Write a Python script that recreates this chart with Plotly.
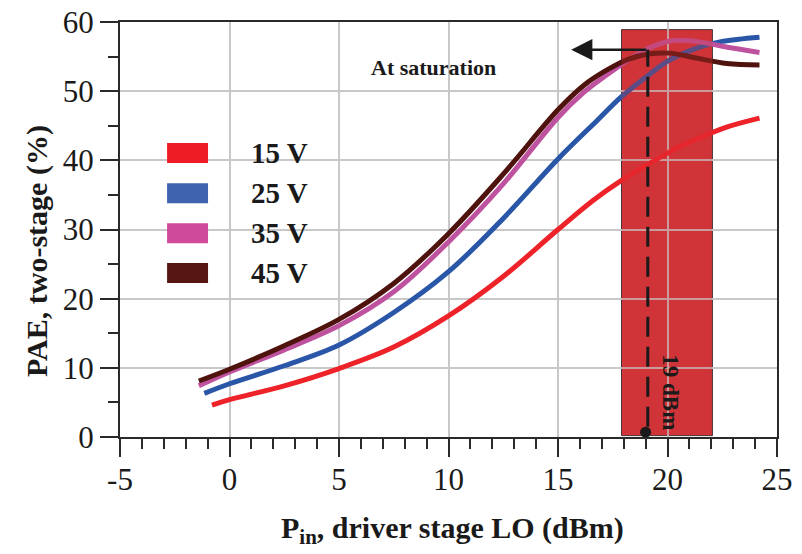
import plotly.graph_objects as go

# ---- data ----
x_15 = [-0.8, 0, 2.5, 5, 7.5, 10, 12.5, 15, 16.6, 17.9, 19.2, 20.5, 21.5, 22.7, 24.2]
y_15 = [4.6, 5.4, 7.4, 9.9, 13.0, 17.5, 23.2, 30.0, 34.2, 37.1, 39.6, 41.9, 43.3, 44.8, 46.1]

x_25 = [-1.15, 0, 2.5, 5, 7.5, 10, 12.5, 15, 16.8, 17.9, 19.2, 20.1, 21.5, 22.5, 24.2]
y_25 = [6.3, 7.7, 10.3, 13.3, 18.0, 23.9, 31.6, 40.2, 45.8, 49.2, 52.5, 54.5, 56.4, 57.2, 57.8]

x_35 = [-1.4, 0, 2.5, 5, 7.5, 10, 12.5, 15, 16.2, 17.2, 18.2, 19.2, 20.2, 21.3, 22.5, 24.2]
y_35 = [7.4, 9.4, 12.6, 16.1, 21.0, 28.2, 36.6, 46.2, 49.9, 52.3, 54.5, 56.3, 57.3, 57.2, 56.5, 55.6]

x_45 = [-1.4, 0, 2.5, 5, 7.5, 10, 12.5, 15, 16.2, 17.2, 18.2, 19.2, 20.1, 21.3, 22.7, 24.2]
y_45 = [8.1, 9.8, 13.2, 17.0, 22.2, 29.4, 38.0, 47.3, 50.9, 53.0, 54.6, 55.4, 55.5, 54.8, 54.0, 53.8]

series_names = ["15 V", "25 V", "35 V", "45 V"]
x_tick_vals = [-5, 0, 5, 10, 15, 20, 25]
x_tick_text = ["-5", "0", "5", "10", "15", "20", "25"]
y_tick_vals = [0, 10, 20, 30, 40, 50, 60]

sat_region = [17.9, 22.05]   # saturation band (dBm)
sat_point = 19               # 19 dBm marker
sat_level = 56               # arrow level (%)

# ---- styles ----
line_colors = ["#EE2229", "#2A56A8", "#BE529E", "#4F130E"]
legend_colors = ["#EE1C25", "#3F63AE", "#CF4A98", "#551510"]
BAND = "rgb(209,52,56)"
FONT = "Liberation Serif"
AX = "#2a2a2a"
TXT = "#1a1a1a"

# page has an 8px body margin; plot-area target in page pixels
OFF = 8
L, R, T, B = 120, 777, 22, 437
W, H = 802 - OFF, 554 - OFF
def px(xp, yp):
    return (xp - L) / (R - L), (B - yp) / (B - T)

fig = go.Figure()
for xs, ys, c, n in zip([x_15, x_25, x_35, x_45], [y_15, y_25, y_35, y_45], line_colors, series_names):
    fig.add_trace(go.Scatter(x=xs, y=ys, mode="lines", name=n,
                             line=dict(color=c, width=5, shape="spline", smoothing=1.0),
                             showlegend=False))

shapes = []
# saturation band: opaque fill below the grid, plus a translucent tint over the curves
shapes.append(dict(type="rect", xref="x", yref="y", x0=sat_region[0], x1=sat_region[1],
                   y0=0.2, y1=58.9, fillcolor=BAND,
                   line=dict(color="#333333", width=1), layer="below"))
shapes.append(dict(type="rect", xref="x", yref="y", x0=sat_region[0], x1=sat_region[1],
                   y0=0.2, y1=58.9, fillcolor=BAND, opacity=0.3,
                   line=dict(width=0), layer="above"))
shapes.append(dict(type="line", xref="x", yref="y", x0=sat_point + 0.1, x1=sat_point + 0.1,
                   y0=1.5, y1=sat_level, line=dict(color=TXT, width=3, dash="20px,10px"),
                   layer="above"))
# 19 dBm dot
shapes.append(dict(type="circle", xref="x", yref="y", xsizemode="pixel", ysizemode="pixel",
                   xanchor=sat_point, yanchor=0.7, x0=-5.5, x1=5.5, y0=-5.5, y1=5.5,
                   fillcolor=TXT, line=dict(width=0), layer="above"))

legend_rows_y = [41.05, 35.25, 29.45, 23.7]
for yc, c in zip(legend_rows_y, legend_colors):
    shapes.append(dict(type="rect", xref="x", yref="y", x0=-2.85, x1=-0.98,
                       y0=yc - 1.45, y1=yc + 1.45, fillcolor=c, line=dict(width=0),
                       layer="above"))

annotations = []
for yc, n in zip(legend_rows_y, series_names):
    annotations.append(dict(x=0.9, y=yc, xref="x", yref="y", text="<b>%s</b>" % n,
                            showarrow=False, xanchor="left", yanchor="middle",
                            font=dict(family=FONT, size=29, color=TXT)))

annotations.append(dict(x=15.6, y=sat_level, ax=sat_point + 0.1, ay=sat_level, xref="x", yref="y",
                        axref="x", ayref="y", text="", showarrow=True, arrowhead=2,
                        arrowsize=1.7, arrowwidth=2.5, arrowcolor=TXT, standoff=0,
                        startstandoff=0))
annotations.append(dict(x=9.3, y=53.4, xref="x", yref="y", text="<b>At saturation</b>",
                        showarrow=False, font=dict(family=FONT, size=22, color=TXT)))
annotations.append(dict(x=20.15, y=6.5, xref="x", yref="y", text="<b>19 dBm</b>",
                        showarrow=False, textangle=90,
                        font=dict(family=FONT, size=23, color=TXT)))
yx, yy = px(37, 251)
annotations.append(dict(x=yx, y=yy, xref="paper", yref="paper", text="<b>PAE, two-stage (%)</b>",
                        showarrow=False, textangle=-90, xanchor="center", yanchor="middle",
                        font=dict(family=FONT, size=30, color=TXT)))
tx, ty = px(452, 530)
annotations.append(dict(x=tx, y=ty, xref="paper", yref="paper",
                        text="<b>P<sub>in</sub>, driver stage LO (dBm)</b>",
                        showarrow=False, xanchor="center", yanchor="middle",
                        font=dict(family=FONT, size=30, color=TXT)))

fig.update_layout(
    width=W, height=H,
    margin=dict(l=L - OFF, r=802 - R, t=T - OFF, b=554 - B),
    paper_bgcolor="white", plot_bgcolor="white",
    shapes=shapes, annotations=annotations,
    font=dict(family=FONT, color=TXT),
    xaxis=dict(range=[-5, 25], tickvals=x_tick_vals, ticktext=x_tick_text, automargin=False,
               ticks="outside", ticklen=18, tickwidth=2, tickcolor=AX,
               showline=True, linewidth=2, linecolor=AX, mirror=True,
               showgrid=True, gridcolor="#c8c8c8", gridwidth=1.5, zeroline=False,
               tickfont=dict(family=FONT, size=31, color=TXT),
               ticklabelstandoff=-4, ticklabeloverflow="allow",
               minor=dict(dtick=1, tick0=-5, ticks="outside", ticklen=10, tickwidth=2,
                          tickcolor=AX, showgrid=False)),
    yaxis=dict(range=[0, 60], tickvals=y_tick_vals, automargin=False,
               ticks="outside", ticklen=18, tickwidth=2, tickcolor=AX,
               showline=True, linewidth=2, linecolor=AX, mirror=True,
               showgrid=True, gridcolor="#c8c8c8", gridwidth=1.5, zeroline=False,
               tickfont=dict(family=FONT, size=31, color=TXT),
               ticklabeloverflow="allow",
               minor=dict(dtick=5, ticks="outside", ticklen=10, tickwidth=2,
                          tickcolor=AX, showgrid=False)),
)

fig.write_html("out.html")
